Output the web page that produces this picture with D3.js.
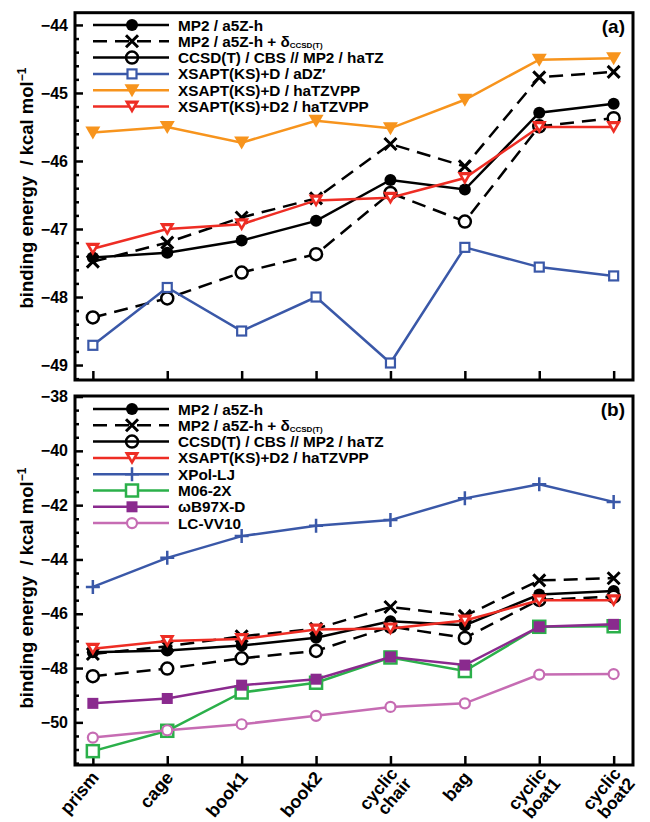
<!DOCTYPE html>
<html><head><meta charset="utf-8">
<script src="https://cdn.jsdelivr.net/npm/d3@7"></script>
<style>body{margin:0;background:#fff}svg{display:block;font-family:"Liberation Sans",Arial,sans-serif;font-weight:bold}</style>
</head><body><svg id="c" width="650" height="822"></svg>
<script>
const categories = [["prism"],["cage"],["book1"],["book2"],["cyclic","chair"],["bag"],["cyclic","boat1"],["cyclic","boat2"]];
const mp2 = [-47.42,-47.35,-47.17,-46.88,-46.28,-46.42,-45.29,-45.16];
const mp2Delta = [-47.48,-47.20,-46.83,-46.55,-45.75,-46.08,-44.77,-44.69];
const ccsdt = [-48.30,-48.02,-47.64,-47.37,-46.47,-46.89,-45.49,-45.37];
const xsaptD_aDZ = [-48.71,-47.86,-48.50,-48.00,-48.97,-47.27,-47.56,-47.69];
const xsaptD_haTZ = [-45.58,-45.50,-45.73,-45.41,-45.52,-45.10,-44.51,-44.49];
const xsaptD2_haTZ = [-47.29,-47.00,-46.93,-46.58,-46.54,-46.25,-45.50,-45.50];
const xpolLJ = [-45.01,-43.94,-43.14,-42.76,-42.55,-41.75,-41.23,-41.88];
const m062x = [-51.06,-50.31,-48.90,-48.54,-47.61,-48.11,-46.48,-46.46];
const wb97xd = [-49.30,-49.12,-48.63,-48.41,-47.59,-47.89,-46.48,-46.39];
const lcvv10 = [-50.56,-50.29,-50.07,-49.76,-49.43,-49.30,-48.24,-48.22];
const ticksA = [-44,-45,-46,-47,-48,-49];
const ticksB = [-38,-40,-42,-44,-46,-48,-50];

const S = {
  mp2:{name:"MP2 / a5Z-h", data:mp2, color:"#000", dash:null, legDash:null, marker:"dot"},
  mp2d:{name:"MP2 / a5Z-h + δ", sub:"CCSD(T)", data:mp2Delta, color:"#000", dash:"14,8", legDash:"14,8", marker:"x"},
  cc:{name:"CCSD(T) / CBS // MP2 / haTZ", data:ccsdt, color:"#000", dash:"14,8", legDash:null, marker:"ocirc"},
  xa:{name:"XSAPT(KS)+D / aDZ′", data:xsaptD_aDZ, color:"#3a58a8", dash:null, marker:"osq"},
  xo:{name:"XSAPT(KS)+D / haTZVPP", data:xsaptD_haTZ, color:"#f7941d", dash:null, marker:"tri"},
  xr:{name:"XSAPT(KS)+D2 / haTZVPP", data:xsaptD2_haTZ, color:"#ee2d24", dash:null, marker:"otri"},
  xp:{name:"XPol-LJ", data:xpolLJ, color:"#3a58a8", dash:null, marker:"plus"},
  m06:{name:"M06-2X", data:m062x, color:"#2bb04a", dash:null, marker:"bigsq"},
  wb:{name:"ωB97X-D", data:wb97xd, color:"#8a2a8e", dash:null, marker:"fsq"},
  lc:{name:"LC-VV10", data:lcvv10, color:"#c66cb3", dash:null, marker:"pcirc"}
};

const svg = d3.select("#c");
const X0=75, X1=633;
const x = d3.scaleLinear().domain([-0.24, 7.26]).range([X0, X1]);

function marker(g, m, cx, cy, color, leg){
  if(m==="dot") g.append("circle").attr("cx",cx).attr("cy",cy).attr("r",6).attr("fill",color);
  else if(m==="x"){ const s=6;
    g.append("path").attr("d",`M${cx-s},${cy-s}L${cx+s},${cy+s}M${cx-s},${cy+s}L${cx+s},${cy-s}`).attr("stroke",color).attr("stroke-width",3).attr("fill","none");}
  else if(m==="ocirc") g.append("circle").attr("cx",cx).attr("cy",cy).attr("r",6).attr("fill",leg?"none":"#fff").attr("stroke",color).attr("stroke-width",2.5);
  else if(m==="osq") g.append("rect").attr("x",cx-4.5).attr("y",cy-4.5).attr("width",9).attr("height",9).attr("fill","#fff").attr("stroke",color).attr("stroke-width",2.2);
  else if(m==="tri") g.append("path").attr("d",`M${cx-7.5},${cy-6}L${cx+7.5},${cy-6}L${cx},${cy+7}Z`).attr("fill",color);
  else if(m==="otri"){
    g.append("path").attr("d",`M${cx-7.5},${cy-6}L${cx+7.5},${cy-6}L${cx},${cy+7}Z`).attr("fill",color);
    g.append("path").attr("d",`M${cx-2.6},${cy-2.8}L${cx+2.6},${cy-2.8}L${cx},${cy+1.8}Z`).attr("fill","#fff");
  }
  else if(m==="plus"){ const s=7;
    g.append("path").attr("d",`M${cx-s},${cy}L${cx+s},${cy}M${cx},${cy-s}L${cx},${cy+s}`).attr("stroke",color).attr("stroke-width",2.5);}
  else if(m==="bigsq") g.append("rect").attr("x",cx-6).attr("y",cy-6).attr("width",12).attr("height",12).attr("fill","#fff").attr("stroke",color).attr("stroke-width",2.5);
  else if(m==="fsq") g.append("rect").attr("x",cx-5.5).attr("y",cy-5.5).attr("width",11).attr("height",11).attr("fill",color);
  else if(m==="pcirc") g.append("circle").attr("cx",cx).attr("cy",cy).attr("r",5).attr("fill","#fff").attr("stroke",color).attr("stroke-width",2.2);
}

function panel(opt){
  const y = d3.scaleLinear().domain(opt.domain).range([opt.bottom, opt.top]);
  const g = svg.append("g");
  g.append("g").attr("transform",`translate(${X0},0)`)
    .call(d3.axisLeft(y).tickValues(opt.ticks).tickSizeInner(-8).tickSizeOuter(0).tickPadding(7).tickFormat(d3.format("d")))
    .call(a=>{a.select(".domain").remove(); a.selectAll("line").attr("stroke-width",2.5);
      a.selectAll("text").attr("font-size",16).attr("font-family","Liberation Sans, Arial").attr("font-weight","bold").attr("fill","#000");});
  const minors=[]; const lo=Math.ceil(opt.domain[0]/opt.minor), hi=Math.floor(opt.domain[1]/opt.minor);
  for(let k=lo;k<=hi;k++){const v=+(k*opt.minor).toFixed(3); if(!opt.ticks.some(t=>Math.abs(t-v)<1e-6)) minors.push(v);}
  g.append("g").attr("transform",`translate(${X0},0)`)
    .call(d3.axisLeft(y).tickValues(minors).tickSizeInner(-4).tickSizeOuter(0).tickFormat(""))
    .call(a=>{a.select(".domain").remove(); a.selectAll("line").attr("stroke-width",2.5);});
  g.append("g").attr("transform",`translate(0,${opt.bottom})`)
    .call(d3.axisBottom(x).tickValues(d3.range(categories.length)).tickSizeInner(-9).tickSizeOuter(0).tickFormat(""))
    .call(a=>{a.select(".domain").remove(); a.selectAll("line").attr("stroke-width",2.5);});
  const line = d3.line().x((d,i)=>x(i)).y(d=>y(d));
  opt.series.forEach(k=>{
    const s=S[k];
    g.append("path").datum(s.data).attr("d",line).attr("fill","none").attr("stroke",s.color)
      .attr("stroke-width",2.5).attr("stroke-dasharray",s.dash);
    s.data.forEach((v,i)=>marker(g,s.marker,x(i),y(v),s.color,false));
  });
  g.append("rect").attr("x",X0).attr("y",opt.top).attr("width",X1-X0).attr("height",opt.bottom-opt.top)
    .attr("fill","none").attr("stroke","#000").attr("stroke-width",3);
  const lg = g.append("g");
  opt.series.forEach((k,i)=>{
    const s=S[k]; const ly=opt.legTop+i*16.3;
    lg.append("line").attr("x1",93).attr("x2",169).attr("y1",ly).attr("y2",ly).attr("stroke",s.color)
      .attr("stroke-width",2.5).attr("stroke-dasharray",s.legDash||null);
    marker(lg,s.marker,132,ly,s.color,true);
    const t=lg.append("text").attr("x",178).attr("y",ly+5.5).attr("font-size",15.3).attr("fill","#000").text(s.name);
    if(s.sub) t.append("tspan").attr("font-size",8).attr("dy",1.5).text(s.sub);
  });
  g.append("text").attr("x",625).attr("y",opt.top+20).attr("text-anchor","end").attr("font-size",19).text(opt.label);
  const yl=g.append("text").attr("transform",`translate(33,${opt.ylab}) rotate(-90)`).attr("text-anchor","middle").attr("font-size",18.5);
  yl.append("tspan").text("binding energy\u00a0\u00a0/ kcal mol");
  yl.append("tspan").attr("font-size",12).attr("dy",-7).text("−1");
  return y;
}

panel({domain:[-49.22,-43.82], top:12.7, bottom:380, ticks:ticksA, minor:0.2, label:"(a)",
  series:["mp2","mp2d","cc","xa","xo","xr"], legTop:25, ylab:188});
panel({domain:[-51.57,-37.98], top:396, bottom:765, ticks:ticksB, minor:0.5, label:"(b)",
  series:["mp2","mp2d","cc","xr","xp","m06","wb","lc"], legTop:409, ylab:588});

const xl = svg.append("g");
categories.forEach((c,i)=>{
  const cx = x(i);
  if(c.length===1){
    xl.append("text").attr("transform",`translate(${cx+7},${778}) rotate(-50)`).attr("text-anchor","end").attr("font-size",18).text(c[0]);
  } else {
    xl.append("text").attr("transform",`translate(${cx+8},${774}) rotate(-50)`).attr("text-anchor","end").attr("font-size",17.5).text(c[0]);
    xl.append("text").attr("transform",`translate(${cx+22},${784}) rotate(-50)`).attr("text-anchor","end").attr("font-size",17.5).text(c[1]);
  }
});
</script></body></html>
